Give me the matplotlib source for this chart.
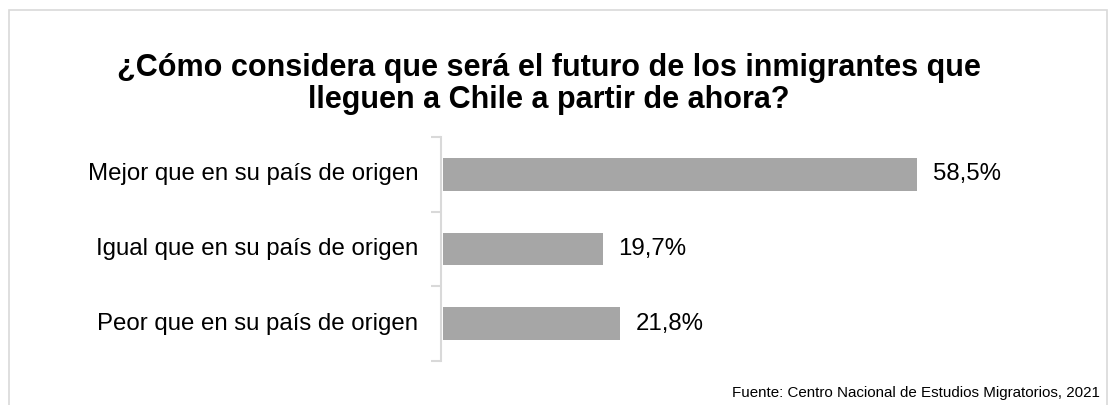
import matplotlib.pyplot as plt
from matplotlib.patches import Rectangle

plt.rcParams['font.family'] = ['Liberation Sans', 'DejaVu Sans']

categorias = ['Mejor que en su país de origen',
              'Igual que en su país de origen',
              'Peor que en su país de origen']
valores = [58.5, 19.7, 21.8]
etiquetas = ['58,5%', '19,7%', '21,8%']

titulo = '¿Cómo considera que será el futuro de los inmigrantes que\nlleguen a Chile a partir de ahora?'
fuente = 'Fuente: Centro Nacional de Estudios Migratorios, 2021'

W, H = 1110, 405
fig = plt.figure(figsize=(W / 100, H / 100), dpi=100)

# marco gris alrededor del gráfico
fig.add_artist(Rectangle((9 / W, -0.05), (W - 12) / W, 1.05 - 10 / H,
                         transform=fig.transFigure, fill=False,
                         edgecolor='#d9d9d9', linewidth=1.2))

ax = fig.add_axes([441 / W, 1 - 361 / H, 600 / W, 224 / H])
y = list(range(len(categorias)))
ax.barh(y, valores, height=0.44, color='#a6a6a6', left=0.25)
ax.set_xlim(0, 74)
ax.set_ylim(len(categorias) - 0.5, -0.5)

for i, (v, t) in enumerate(zip(valores, etiquetas)):
    ax.text(v + 2.2, i, t, va='center', ha='left', fontsize=17.3, color='#000000')

for s in ['top', 'right', 'bottom']:
    ax.spines[s].set_visible(False)
ax.spines['left'].set_color('#d9d9d9')
ax.spines['left'].set_linewidth(1.5)
ax.set_xticks([])
ax.set_yticks([-0.5, 0.5, 1.5, 2.5])
ax.set_yticklabels([])
ax.tick_params(axis='y', length=7, width=1.5, color='#d9d9d9')
for i, c in enumerate(categorias):
    ax.text(-0.038, i, c, transform=ax.get_yaxis_transform(), ha='right',
            va='center', fontsize=17.3, color='#000000')

fig.text(548.5 / W, 1 - 84 / H, titulo, ha='center', va='center',
         fontsize=22, fontweight='bold', linespacing=1.05)
fig.text(1100 / W, 1 - 393 / H, fuente, ha='right', va='center', fontsize=10.9)

fig.savefig('out.png', dpi=100)
